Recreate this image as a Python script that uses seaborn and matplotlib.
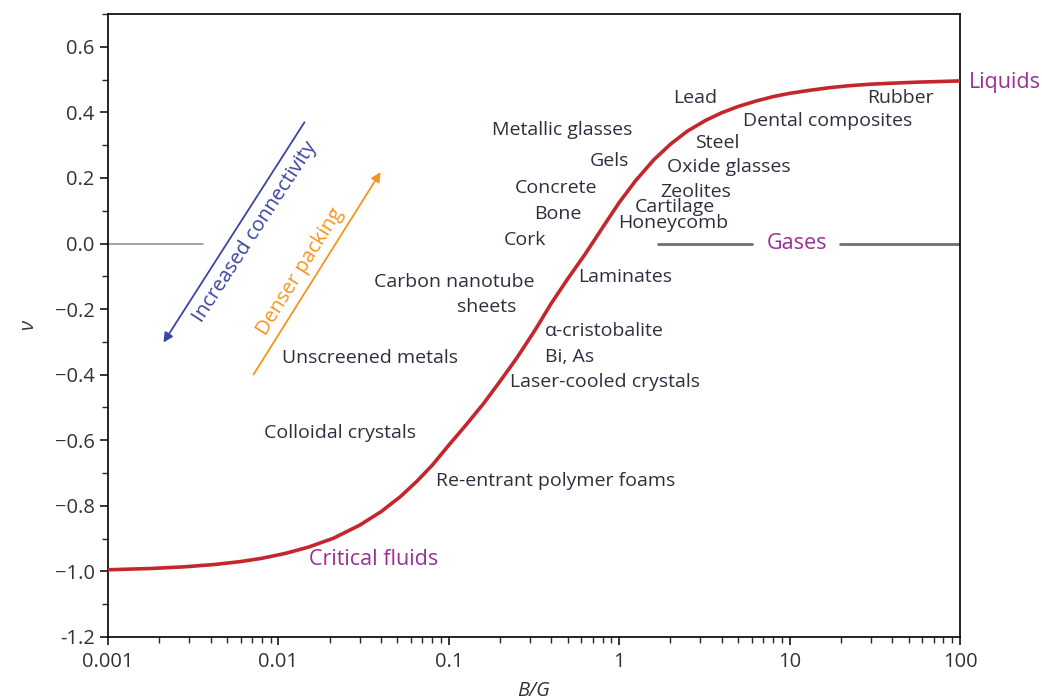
import numpy as np
import pandas as pd
import seaborn as sns
import matplotlib.pyplot as plt
from matplotlib.ticker import MultipleLocator, LogLocator, NullFormatter

# curve: B/G ratio and Poisson's ratio
bg_ratio = [0.001, 0.0018, 0.0028, 0.0042, 0.006, 0.008, 0.011, 0.015, 0.021, 0.03,
            0.04, 0.052, 0.065, 0.08, 0.1, 0.125, 0.16, 0.2, 0.25, 0.32,
            0.4, 0.5, 0.63, 0.8, 1.0, 1.25, 1.6, 2.0, 2.5, 3.2,
            4.0, 5.0, 6.3, 8.0, 10.0, 13.0, 17.0, 22.0, 30.0, 40.0,
            55.0, 75.0, 100.0]
poisson = [-0.995, -0.991, -0.986, -0.979, -0.970, -0.960, -0.945, -0.926, -0.899, -0.859,
           -0.818, -0.772, -0.725, -0.676, -0.615, -0.556, -0.488, -0.420, -0.350, -0.265,
           -0.182, -0.107, -0.033, 0.049, 0.125, 0.192, 0.256, 0.303, 0.342, 0.375,
           0.399, 0.418, 0.434, 0.448, 0.458, 0.467, 0.475, 0.481, 0.486, 0.489,
           0.492, 0.494, 0.496]

# material labels (text, B/G, nu)
materials = ["Lead", "Metallic glasses", "Rubber", "Dental composites", "Steel", "Gels",
             "Oxide glasses", "Concrete", "Zeolites", "Cartilage", "Bone", "Honeycomb",
             "Cork", "Laminates", "Carbon nanotube", "sheets", "Unscreened metals",
             "Laser-cooled crystals", "Colloidal crystals", "Re-entrant polymer foams"]
mat_x = [2.79, 0.461, 44.5, 16.8, 3.75, 0.871, 4.41, 0.426, 2.82, 2.12, 0.438, 2.07,
         0.280, 1.08, 0.107, 0.168, 0.0345, 0.826, 0.023, 0.426]
mat_y = [0.444, 0.347, 0.444, 0.374, 0.307, 0.252, 0.232, 0.170, 0.158, 0.112, 0.091,
         0.063, 0.011, -0.102, -0.117, -0.193, -0.349, -0.422, -0.577, -0.724]
left_labels = ["α-cristobalite", "Bi, As"]
left_x = [0.367, 0.367]
left_y = [-0.266, -0.346]

ink = "#2e2e3e"
purple = "#9c2f96"
red = "#c4262e"
blue = "#3a46a0"
orange = "#f7941d"

sns.set_style("ticks")
plt.rcParams["font.family"] = ["Open Sans", "DejaVu Sans"]

fig = plt.figure(figsize=(10.42, 7), dpi=100)
ax = fig.add_axes([0.1036, 0.09, 0.8177, 0.89])

df = pd.DataFrame({"B/G": bg_ratio, "nu": poisson})
sns.lineplot(data=df, x="B/G", y="nu", color=red, linewidth=2.6, ax=ax, zorder=3)

ax.set_xscale("log")
ax.set_xlim(0.001, 100)
ax.set_ylim(-1.2, 0.7)

# zero lines (gray)
ax.plot([0.001, 0.0036], [0, 0], color="#8c8c8c", lw=1.1)
ax.plot([1.69, 6.0], [0, 0], color="#707070", lw=2)
ax.plot([19.8, 100], [0, 0], color="#707070", lw=2)

for t, x, y in zip(materials, mat_x, mat_y):
    ax.text(x, y, t, ha="center", va="center", fontsize=14, color=ink)
for t, x, y in zip(left_labels, left_x, left_y):
    ax.text(x, y, t, ha="left", va="center", fontsize=14, color=ink)

ax.text(11.0, 0.0, "Gases", ha="center", va="center", fontsize=15.5, color=purple)
ax.text(0.0364, -0.965, "Critical fluids", ha="center", va="center", fontsize=15.5, color=purple)
ax.text(112, 0.49, "Liquids", ha="left", va="center", fontsize=15.5, color=purple, clip_on=False)

# arrows
ax.annotate("", xy=(0.002075, -0.309), xytext=(0.01452, 0.377),
            arrowprops=dict(arrowstyle="-|>", color=blue, lw=1.3, mutation_scale=14))
ax.annotate("", xy=(0.0406, 0.225), xytext=(0.0070, -0.407),
            arrowprops=dict(arrowstyle="-|>", color=orange, lw=1.3, mutation_scale=14))
ax.text(0.00729, 0.036, "Increased connectivity", rotation=57, rotation_mode="anchor",
        ha="center", va="center", fontsize=14.7, color=blue)
ax.text(0.0134, -0.087, "Denser packing", rotation=58, rotation_mode="anchor",
        ha="center", va="center", fontsize=14.7, color=orange)

# axes styling
for s in ax.spines.values():
    s.set_color("black")
    s.set_linewidth(1.2)
ax.yaxis.set_minor_locator(MultipleLocator(0.1))
ax.set_yticks([0.6, 0.4, 0.2, 0.0, -0.2, -0.4, -0.6, -0.8, -1.0, -1.2])
ax.set_yticklabels(["0.6", "0.4", "0.2", "0.0", "\u22120.2", "\u22120.4", "\u22120.6",
                    "\u22120.8", "\u22121.0", "-1.2"])
ax.set_xticks([0.001, 0.01, 0.1, 1, 10, 100])
ax.set_xticklabels(["0.001", "0.01", "0.1", "1", "10", "100"])
ax.xaxis.set_minor_locator(LogLocator(base=10, subs=np.arange(2, 10)))
ax.xaxis.set_minor_formatter(NullFormatter())
ax.tick_params(axis="both", which="major", direction="out", length=6, width=1.1,
               labelsize=14.5, colors="black", labelcolor="#333333")
ax.tick_params(axis="x", which="major", pad=5)
ax.tick_params(axis="both", which="minor", direction="out", length=4, width=1.0)
ax.tick_params(top=False, right=False)

ax.set_xlabel("B/G", fontsize=14.5, style="italic", color="#333333", labelpad=6)
ax.set_ylabel("ν", fontsize=14.5, style="italic", color="#333333", labelpad=12)

fig.savefig("out.png", dpi=100)
